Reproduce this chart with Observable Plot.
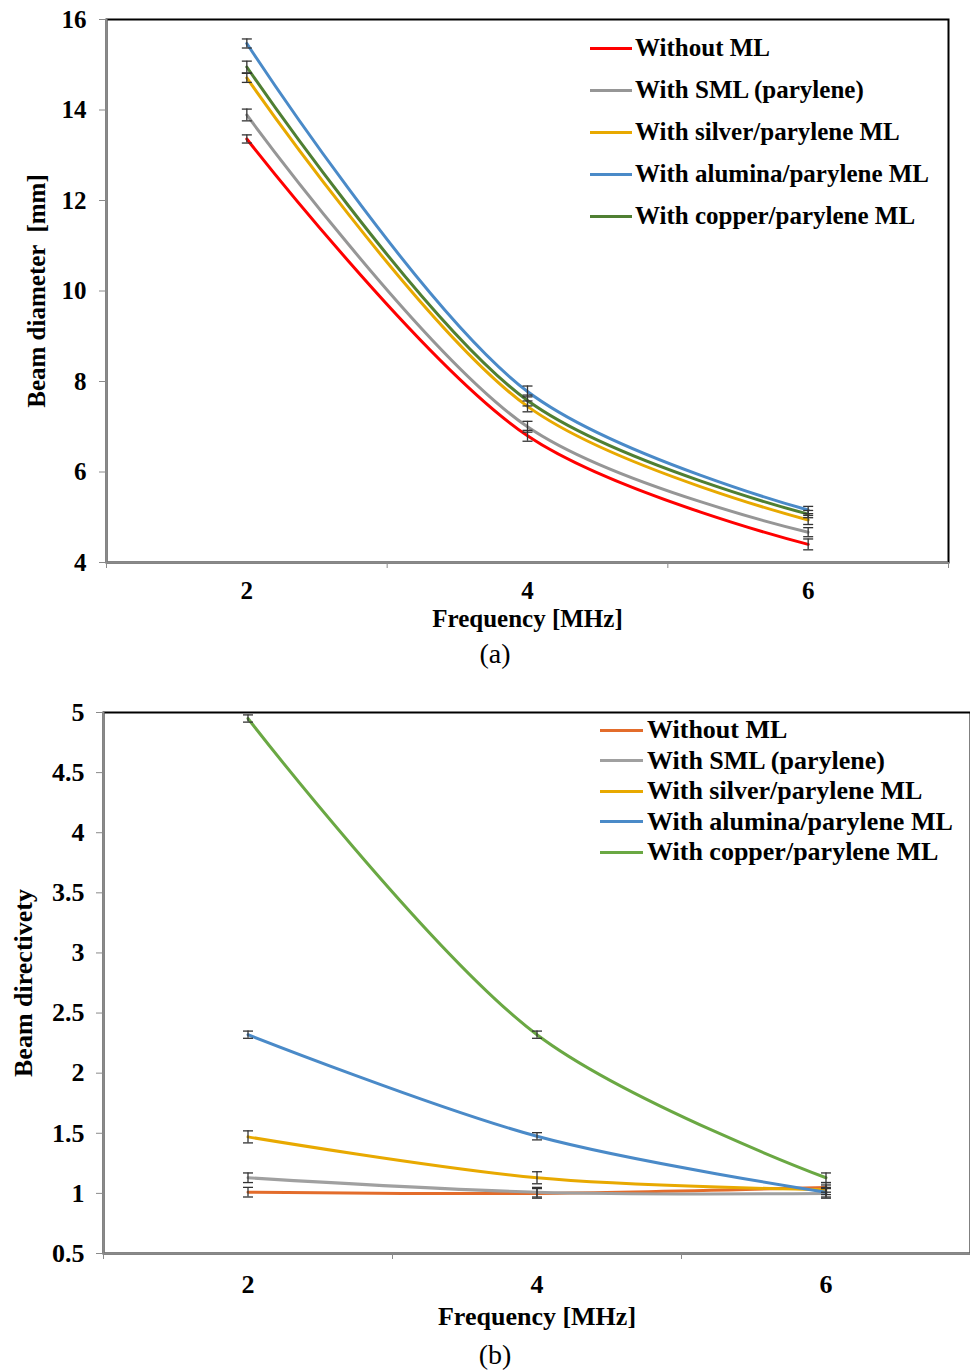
<!DOCTYPE html>
<html><head><meta charset="utf-8">
<script src="https://cdn.jsdelivr.net/npm/d3@7"></script>
<script src="https://cdn.jsdelivr.net/npm/@observablehq/plot@0.6"></script>
<style>
body{margin:0;background:#fff;}
#page{position:relative;width:970px;height:1370px;overflow:hidden;font-family:"Liberation Serif","Times New Roman",serif;background:#fff;}
.chart{position:absolute;left:0;}
.legend{position:absolute;font-weight:bold;color:#000;}
.legend .row{display:flex;align-items:center;white-space:nowrap;}
.legend .sw{display:inline-block;height:3px;}
.caption{position:absolute;left:0;width:990px;text-align:center;font-size:28px;}
</style></head><body><div id="page"></div>
<script>
// ---------- data ----------
const frequencies = [2, 4, 6];
const seriesNames = ["Without ML", "With SML (parylene)", "With silver/parylene ML", "With alumina/parylene ML", "With copper/parylene ML"];
const diameterColors = ["#ff0000", "#969696", "#e8a900", "#4a8ac8", "#4f7f32"];
const directivityColors = ["#e36c2b", "#a0a0a0", "#e8a900", "#4a8ac8", "#6aa843"];

// Beam diameter [mm] (a)
const diamWithoutML = [13.36, 6.80, 4.40];
const diamSML = [13.89, 7.00, 4.67];
const diamSilver = [14.71, 7.45, 4.94];
const diamAlumina = [15.47, 7.78, 5.16];
const diamCopper = [14.95, 7.58, 5.07];
const diamErrWithoutML = [0.09, 0.12, 0.12];
const diamErrSML = [0.13, 0.12, 0.10];
const diamErrSilver = [0.10, 0.12, 0.10];
const diamErrAlumina = [0.10, 0.12, 0.08];
const diamErrCopper = [0.13, 0.12, 0.08];
const diamTicks = [4, 6, 8, 10, 12, 14, 16];

// Beam directivity (b)
const dirWithoutML = [1.01, 1.00, 1.05];
const dirSML = [1.13, 1.01, 1.00];
const dirSilver = [1.47, 1.13, 1.03];
const dirAlumina = [2.32, 1.475, 1.01];
const dirCopper = [4.95, 2.32, 1.13];
const dirErrWithoutML = [0.04, 0.04, 0.04];
const dirErrSML = [0.04, 0.04, 0.04];
const dirErrSilver = [0.05, 0.05, 0.04];
const dirErrAlumina = [0.03, 0.03, 0.04];
const dirErrCopper = [0.03, 0.03, 0.04];
const dirTicks = [0.5, 1, 1.5, 2, 2.5, 3, 3.5, 4, 4.5, 5];

const xMinorTicks = [1, 3, 5, 7];

function rows(valueArrays, errArrays) {
  const out = [];
  valueArrays.forEach((vals, i) => vals.forEach((v, j) => out.push({
    series: seriesNames[i], x: frequencies[j], y: v, lo: v - errArrays[i][j], hi: v + errArrays[i][j]
  })));
  return out;
}
const diamRows = rows([diamWithoutML, diamSML, diamSilver, diamAlumina, diamCopper],
  [diamErrWithoutML, diamErrSML, diamErrSilver, diamErrAlumina, diamErrCopper]);
const dirRows = rows([dirWithoutML, dirSML, dirSilver, dirAlumina, dirCopper],
  [dirErrWithoutML, dirErrSML, dirErrSilver, dirErrAlumina, dirErrCopper]);

const capSymbol = {draw(ctx, size) { const r = Math.sqrt(size / Math.PI); ctx.moveTo(-r, 0); ctx.lineTo(r, 0); }};

function makeChart(cfg) {
  return Plot.plot({
    width: 970, height: cfg.height,
    marginLeft: cfg.ml, marginRight: cfg.mr, marginTop: cfg.mt, marginBottom: cfg.mb,
    style: {fontFamily: "'Liberation Serif','Times New Roman',serif", fontWeight: "bold", fontSize: cfg.fs + "px", background: "transparent", overflow: "visible"},
    x: {domain: [1, 7]},
    y: {domain: cfg.ydomain},
    color: {domain: seriesNames, range: cfg.colors},
    marks: [
      Plot.frame({stroke: "#000", strokeWidth: 2}),
      Plot.ruleX([1], {stroke: "#8a8a8a", strokeWidth: 2}),
      Plot.ruleY([cfg.ydomain[0]], {stroke: "#8a8a8a", strokeWidth: 2}),
      Plot.axisY({ticks: cfg.yticks, tickSize: 7, tickPadding: cfg.ypad, stroke: "#8a8a8a", tickFormat: d => String(d),
        label: cfg.ylabel, labelAnchor: "center", labelOffset: cfg.ylo, labelArrow: "none", fontSize: cfg.labelFs}),
      Plot.axisX({ticks: xMinorTicks, tickSize: 6, stroke: "#8a8a8a", tickFormat: () => "", label: null}),
      Plot.axisX({ticks: frequencies, tickSize: 0, tickPadding: cfg.xpad, tickFormat: d => String(d),
        label: "Frequency [MHz]", labelAnchor: "center", labelOffset: cfg.xlo, labelArrow: "none", fontSize: cfg.labelFs}),
      Plot.line(cfg.data, {x: "x", y: "y", z: "series", stroke: "series", strokeWidth: 3, curve: "catmull-rom"}),
      Plot.ruleX(cfg.data, {x: "x", y1: "lo", y2: "hi", stroke: "#333", strokeWidth: 1.3}),
      Plot.dot(cfg.data, {x: "x", y: "lo", r: 5, symbol: capSymbol, stroke: "#333", strokeWidth: 1.3, fill: "none"}),
      Plot.dot(cfg.data, {x: "x", y: "hi", r: 5, symbol: capSymbol, stroke: "#333", strokeWidth: 1.3, fill: "none"})
    ]
  });
}

const page = document.getElementById("page");

function place(el, top) { const d = document.createElement("div"); d.className = "chart"; d.style.top = top + "px"; d.appendChild(el); page.appendChild(d); }

place(makeChart({height: 640, ml: 106, mr: 22, mt: 19, mb: 78, ydomain: [4, 16], yticks: diamTicks,
  ylabel: "Beam diameter  [mm]", fs: 22, labelFs: 25, ypad: 13, ylo: 79, xpad: 19, xlo: 64,
  colors: diameterColors, data: diamRows}), 0);
place(makeChart({height: 640, ml: 103, mr: 0, mt: 20, mb: 79, ydomain: [0.5, 5], yticks: dirTicks,
  ylabel: "Beam directivety", fs: 25, labelFs: 26, ypad: 12, ylo: 90, xpad: 21, xlo: 71,
  colors: directivityColors, data: dirRows}), 692);

function legend(left, top, rowH, swW, gap, fs, colors) {
  const lg = document.createElement("div");
  lg.className = "legend";
  lg.style.left = left + "px"; lg.style.top = top + "px"; lg.style.fontSize = fs + "px";
  seriesNames.forEach((name, i) => {
    const r = document.createElement("div"); r.className = "row"; r.style.height = rowH + "px";
    const sw = document.createElement("span"); sw.className = "sw"; sw.style.width = swW + "px"; sw.style.background = colors[i]; sw.style.marginRight = gap + "px";
    const t = document.createElement("span"); t.textContent = name;
    r.appendChild(sw); r.appendChild(t); lg.appendChild(r);
  });
  page.appendChild(lg);
}
legend(590, 27, 42, 42, 3, 25, diameterColors);
legend(600, 715, 30.5, 43, 4, 26, directivityColors);

function caption(text, top) { const c = document.createElement("div"); c.className = "caption"; c.style.top = top + "px"; c.textContent = text; page.appendChild(c); }
caption("(a)", 638);
caption("(b)", 1339);
</script></body></html>
